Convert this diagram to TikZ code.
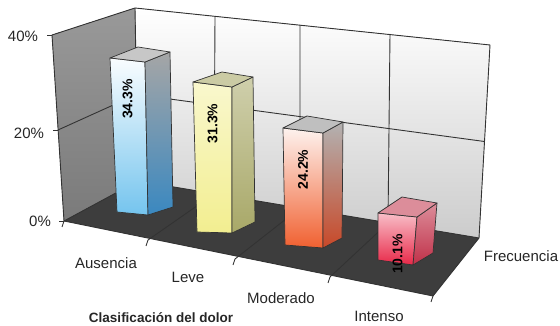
\documentclass[tikz,border=0pt]{standalone}
\usepackage{fontspec}
\setmainfont{Liberation Sans}
\usepackage{tikz}
\usetikzlibrary{calc}

\definecolor{azulF}{HTML}{74C4EE}
\definecolor{azulL}{HTML}{3A88C0}
\definecolor{amarF}{HTML}{F2EE90}
\definecolor{amarL}{HTML}{A8A868}
\definecolor{naraF}{HTML}{F06030}
\definecolor{naraL}{HTML}{C84828}
\definecolor{rojoF}{HTML}{E82848}
\definecolor{rojoL}{HTML}{C03048}

% one box: front face, side face, top face
\newcommand{\barra}[7]{
  \draw[barline,top color=#2,bottom color=#3] (b#1ftl) -- (b#1ftr) -- (b#1fbr) -- (b#1fbl) -- cycle;
  \draw[barline,top color=#4,bottom color=#5] (b#1ftr) -- (b#1btr) -- (b#1bbr) -- (b#1fbr) -- cycle;
  \draw[barline,fill=#6] (b#1ftl) -- (b#1ftr) -- (b#1btr) -- (b#1btl) -- cycle;
  \node[barlabel] (lab#1) at ([yshift=-19pt]$(b#1ftl)!.5!(b#1ftr)$) {#7};
}

\begin{document}
\begin{tikzpicture}[x=1pt,y=-1pt,
  grid/.style={black!80,line width=0.9pt,line join=round},
  barline/.style={draw=black!80,line width=0.7pt,line join=round},
  barlabel/.style={rotate=90,anchor=east,inner sep=0pt,text=black,font=\fontsize{14}{14}\selectfont\bfseries},
  catlabel/.style={inner sep=0pt,text=black!85,font=\fontsize{15}{15}\selectfont}]
\useasboundingbox (0,0) rectangle (560,326);

% frame
\coordinate (T0) at (135,8);  \coordinate (T1) at (215,17); \coordinate (T2) at (300,25);
\coordinate (T3) at (390,34); \coordinate (T4) at (490,45);
\coordinate (B0) at (138,181); \coordinate (B1) at (214,194); \coordinate (B2) at (300,208);
\coordinate (B3) at (388,223); \coordinate (B4) at (479,238);
\coordinate (F0) at (64,221);  \coordinate (F1) at (148,240); \coordinate (F2) at (235,259);
\coordinate (F3) at (330,277); \coordinate (F4) at (433,296);
\coordinate (L4) at (52,35);   \coordinate (L2) at (58,130);
\coordinate (M0) at ($(T0)!.5!(B0)$); \coordinate (M4) at ($(T4)!.5!(B4)$);

\fill[top color=white,bottom color=black!20] (T0) -- (T4) -- (B4) -- (B0) -- cycle;
\fill[top color=black!40,bottom color=black!52] (L4) -- (T0) -- (B0) -- (F0) -- cycle;
\fill[black!76] (F0) -- (F4) -- (B4) -- (B0) -- cycle;

\draw[grid] (L4) -- (T0) -- (T4) -- (B4) -- (F4) -- (F0) -- cycle;
\draw[grid] (T0) -- (B0) -- (F0);
\draw[grid] (B0) -- (B4);
\draw[grid] (L2) -- (M0) -- (M4);
\foreach \i in {1,2,3}
  \draw[grid] (T\i) -- (B\i) -- (F\i);
\foreach \i in {0,...,4}
  \draw[grid] (F\i) -- ++(-2,6);
\draw[grid] (L4) -- ++(-5,0);
\draw[grid] (L2) -- ++(-5,0);
\draw[grid] (F0) -- ++(-5,0);

% bars
\coordinate (b1ftl) at (110,58);  \coordinate (b1ftr) at (145,62);  \coordinate (b1btr) at (170,52);
\coordinate (b1btl) at (138,47);  \coordinate (b1fbl) at (117,212); \coordinate (b1fbr) at (148,215);
\coordinate (b1bbr) at (173,207);
\coordinate (b2ftl) at (193,82);  \coordinate (b2ftr) at (232,87);  \coordinate (b2btr) at (253,77);
\coordinate (b2btl) at (222,72);  \coordinate (b2fbl) at (197,232); \coordinate (b2fbr) at (232,233);
\coordinate (b2bbr) at (255,222);
\coordinate (b3ftl) at (283,128); \coordinate (b3ftr) at (323,133); \coordinate (b3btr) at (343,122);
\coordinate (b3btl) at (307,116); \coordinate (b3fbl) at (285,245); \coordinate (b3fbr) at (323,248);
\coordinate (b3bbr) at (342,238);
\coordinate (b4ftl) at (378,213); \coordinate (b4ftr) at (417,217); \coordinate (b4btr) at (437,203);
\coordinate (b4btl) at (402,197); \coordinate (b4fbl) at (378,260); \coordinate (b4fbr) at (413,265);
\coordinate (b4bbr) at (433,253);

\barra{1}{white!96!azulF}{azulF}{black!35}{azulL}{black!22}{34.3\%}
\barra{2}{amarF!45!white}{amarF}{amarL!55!white}{amarL}{amarL!60!white}{31.3\%}
\barra{3}{naraF!8!white}{naraF}{black!30}{naraL}{black!25}{24.2\%}
\barra{4}{rojoF!30!white}{rojoF}{rojoL!55!white}{rojoL}{rojoL!55!white}{10.1\%}

% labels
\node[catlabel] (y40) at (23,36) {40\%};
\node[catlabel] (y20) at (29,133) {20\%};
\node[catlabel] (y0) at (40,221) {0\%};
\node[catlabel] (ausencia) at (106,263) {Ausencia};
\node[catlabel] (leve) at (188,277) {Leve};
\node[catlabel] (moderado) at (281,298) {Moderado};
\node[catlabel] (intenso) at (379,316) {Intenso};
\node[catlabel] (frecuencia) at (521,256) {Frecuencia};
\node[catlabel,font=\fontsize{13.5}{14}\selectfont\bfseries] (titulo) at (161,318) {Clasificación del dolor};
\end{tikzpicture}
\end{document}
